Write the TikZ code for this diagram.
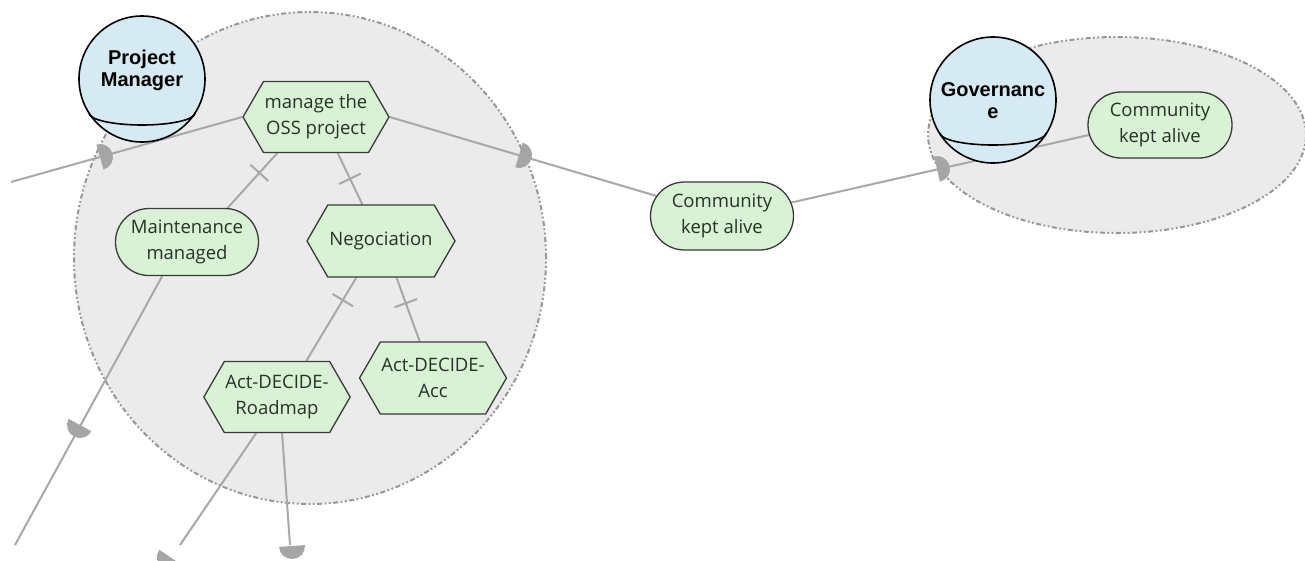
\documentclass[tikz,border=0pt]{standalone}
\usepackage{fontspec}
\newfontfamily\goalfont{Open Sans}
\newfontfamily\actorfont{Liberation Sans}
\usetikzlibrary{shapes.symbols,shapes.misc,shapes.geometric,decorations.markings}
\definecolor{boundfill}{RGB}{235,235,235}
\definecolor{boundline}{RGB}{150,150,150}
\definecolor{linkgray}{RGB}{168,168,168}
\definecolor{markgray}{RGB}{165,165,165}
\definecolor{greenfill}{RGB}{217,241,213}
\definecolor{bluefill}{RGB}{213,234,243}
\definecolor{nodeline}{RGB}{55,60,55}
\definecolor{textcol}{RGB}{40,50,40}
\pgfdeclarelayer{back}
\pgfdeclarelayer{mid}
\pgfsetlayers{back,mid,main}
\tikzset{
  boundary/.style={fill=boundfill, draw=boundline, line width=2pt,
    dash pattern=on 5pt off 2.5pt on 1.8pt off 2.5pt on 1.8pt off 2.5pt},
  hexa/.style={signal, signal to=west and east, signal pointer angle=120,
    fill=greenfill, draw=nodeline, line width=1.3pt, minimum width=146pt,
    minimum height=71pt, inner sep=1pt, align=center, text=textcol,
    font=\goalfont\fontsize{18.5}{26}\selectfont},
  goalbox/.style={rounded rectangle, fill=greenfill, draw=nodeline, line width=1.3pt,
    minimum width=145pt, minimum height=67pt, inner sep=1pt, align=center, text=textcol,
    font=\goalfont\fontsize{18.5}{26}\selectfont},
  actor/.style={circle, fill=bluefill, draw=black, line width=1.6pt, minimum size=126pt, inner sep=0pt},
  actorlabel/.style={align=center, text=black, font=\actorfont\bfseries\fontsize{20}{22}\selectfont, inner sep=0pt},
  linkline/.style={draw=linkgray, line width=2pt},
  decomp/.style={linkline, postaction={decorate, decoration={markings,
    mark=at position #1 with {\draw[linkgray, line width=2pt] (0pt,-12pt) -- (0pt,12pt);}}}},
  dmark/.pic={\fill[markgray] (0pt,-13pt) arc[start angle=-90,end angle=90,radius=13pt] -- cycle;}
}
\begin{document}
\begin{tikzpicture}[x=1pt,y=-1pt]
\useasboundingbox (0,0) rectangle (1305,560);
% boundaries
\begin{pgfonlayer}{back}
\fill[white] (0,0) rectangle (1305,560);
\path[boundary] (310,258) ellipse[x radius=236pt, y radius=246pt];
\path[boundary] (1117,135) ellipse[x radius=189pt, y radius=98pt];
\end{pgfonlayer}
% nodes
\node[actor] (pm) at (142,79) {};
\draw[black, line width=1.6pt] (89,113) arc[start angle=180, end angle=360, x radius=53pt, y radius=12pt];
\node[actorlabel] (pmlabel) at (142,70) {Project\\Manager};
\node[actor] (gov) at (993,100) {};
\draw[black, line width=1.6pt] (940,133) arc[start angle=180, end angle=360, x radius=53pt, y radius=12pt];
\node[actorlabel] (govlabel) at (993,101) {Governanc\\e};

\node[hexa] (mgr) at (316,117) {manage the\\OSS project};
\node[goalbox] (maint) at (187,242) {Maintenance\\managed};
\node[hexa, minimum width=148pt, minimum height=72pt] (nego) at (381,241) {Negociation};
\node[hexa] (rm) at (277,397) {Act-DECIDE-\\Roadmap};
\node[hexa, minimum height=72pt] (acc) at (433,378) {Act-DECIDE-\\Acc};
\node[goalbox, minimum height=68pt] (ck1) at (722,216) {Community\\kept alive};
\node[goalbox, minimum width=146pt, minimum height=66pt] (ck2) at (1160,125) {Community\\kept alive};

\coordinate (in1) at (11,182);
\coordinate (o1) at (15,545);
\coordinate (o2) at (180,545);
\coordinate (o3) at (290,545);

\begin{pgfonlayer}{mid}
% decompositions
\draw[decomp=0.36] (mgr.223) -- (maint.40);
\draw[decomp=0.5] (mgr.301) -- (nego.117);
\draw[decomp=0.27] (nego.236) -- (rm.51);
\draw[decomp=0.4] (nego.293) -- (acc.110);
% dependencies
\draw[linkline] (in1) -- (mgr.west);
\draw[linkline] (mgr.east) -- (ck1.163);
\draw[linkline] (ck1.11) -- (ck2.188);
\draw[linkline] (maint.234) -- (o1);
\draw[linkline] (rm.240) -- (o2);
\draw[linkline] (rm.278) -- (o3);
\pic[rotate=15.6] at (100,157) {dmark};
\pic[rotate=-16.5] at (519,155) {dmark};
\pic[rotate=12.8] at (937,169) {dmark};
\pic[rotate=-118.7] at (80,425) {dmark};
\pic[rotate=-124] at (170,557) {dmark};
\pic[rotate=-86] at (292,546) {dmark};
\end{pgfonlayer}
\end{tikzpicture}
\end{document}
